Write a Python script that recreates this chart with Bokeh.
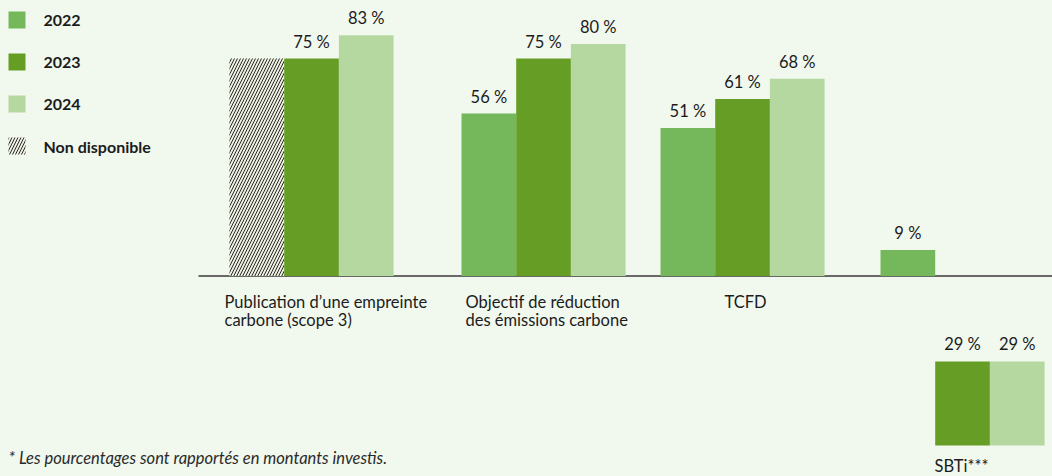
from bokeh.plotting import figure
from bokeh.models import Range1d
from bokeh.core.properties import value
from bokeh.embed import file_html
from bokeh.resources import INLINE

# ---------------- data ----------------
categories = ["Publication d’une empreinte\ncarbone (scope 3)",
              "Objectif de réduction\ndes émissions carbone",
              "TCFD",
              "SBTi***"]
years = ["2022", "2023", "2024"]
values_2022 = [None, 56, 51, 9]      # None = non disponible
values_2023 = [75, 75, 61, 29]
values_2024 = [83, 80, 68, 29]
legend_labels = ["2022", "2023", "2024", "Non disponible"]
footnote = "* Les pourcentages sont rapportés en montants investis."

# ---------------- style / layout ----------------
colors = {"2022": "#74B85B", "2023": "#669E25", "2024": "#B5D8A1"}
BG = "#F1F8EE"
TXT = "#1c1c1c"
FONT = "Lato"

W, H = 1052, 476
AXIS_PX = 275.5            # image y of the baseline
PX_PER = 2.9               # pixels per percent
TXT_SHIFT = 6              # renderer draws text slightly lower than the anchor


def y_at(img_y):
    return (AXIS_PX - img_y) / PX_PER


def ty(img_y):
    return y_at(img_y - TXT_SHIFT)


def dy(px):
    return px / PX_PER


group_left = [229, 461, 660, 880]
bar_w = 54.7
label_x = [224, 465, 724, 934]
label_baseline = [307, 307, 307, 471]
lower_base_cat = 3                 # SBTi 2023/2024 drawn in a lower block
lower_base = y_at(445)

p = figure(width=W, height=H,
           x_range=Range1d(0, W),
           y_range=Range1d(y_at(H), y_at(0)),
           x_axis_type=None, y_axis_type=None,
           output_backend="svg", toolbar_location=None,
           min_border=0, border_fill_color=BG, background_fill_color=BG,
           outline_line_color=None)
p.grid.visible = False

# baseline
p.segment(x0=[198], x1=[W], y0=[0], y1=[0], line_color="#3a3a3a", line_width=1.6)

HATCH = dict(fill_color="#ECEEDF", line_color=None, hatch_pattern="/",
             hatch_color="#2a2a2a", hatch_scale=6, hatch_weight=1.0)

series = {"2022": values_2022, "2023": values_2023, "2024": values_2024}
for j, yr in enumerate(years):
    vals = series[yr]
    for i, v in enumerate(vals):
        left = group_left[i] + j * bar_w
        if v is None:
            h = values_2023[i]
            p.quad(left=[left], right=[left + bar_w], bottom=[0], top=[h], **HATCH)
            continue
        base = lower_base if (i == lower_base_cat and yr != "2022") else 0
        p.quad(left=[left], right=[left + bar_w], bottom=[base], top=[base + v],
               fill_color=colors[yr], line_color=None)
        p.text(x=[left + bar_w / 2], y=[base + v + dy(11 + TXT_SHIFT)], text=[f"{v} %"],
               text_align="center", text_baseline="alphabetic",
               text_font=value(FONT), text_font_size="16.5px",
               text_font_style="normal", text_color=TXT)

# category labels
for i, cat in enumerate(categories):
    for k, line in enumerate(cat.split("\n")):
        p.text(x=[label_x[i]], y=[ty(label_baseline[i] + 18.5 * k)], text=[line],
               text_align="left", text_baseline="alphabetic",
               text_font=value(FONT), text_font_size="16.5px", text_color=TXT)

# legend
leg_top = [11, 53, 95, 137]
for k, lab in enumerate(legend_labels):
    t = leg_top[k]
    if lab in colors:
        p.quad(left=[8], right=[25], top=[y_at(t)], bottom=[y_at(t + 17)],
               fill_color=colors[lab], line_color=None)
    else:
        p.quad(left=[8], right=[25], top=[y_at(t)], bottom=[y_at(t + 17)], **HATCH)
    p.text(x=[43], y=[ty(t + 14.5)], text=[lab],
           text_align="left", text_baseline="alphabetic",
           text_font=value(FONT), text_font_size="16px",
           text_font_style="bold", text_color=TXT)

# footnote
p.text(x=[8], y=[ty(463)], text=[footnote],
       text_align="left", text_baseline="alphabetic",
       text_font=value(FONT), text_font_size="16.5px",
       text_font_style="italic", text_color="#2a2a2a")

html = file_html(p, INLINE)
html = html.replace("</head>", "<style>html,body{background:%s;}</style></head>" % BG, 1)
open("out.html", "w").write(html)
